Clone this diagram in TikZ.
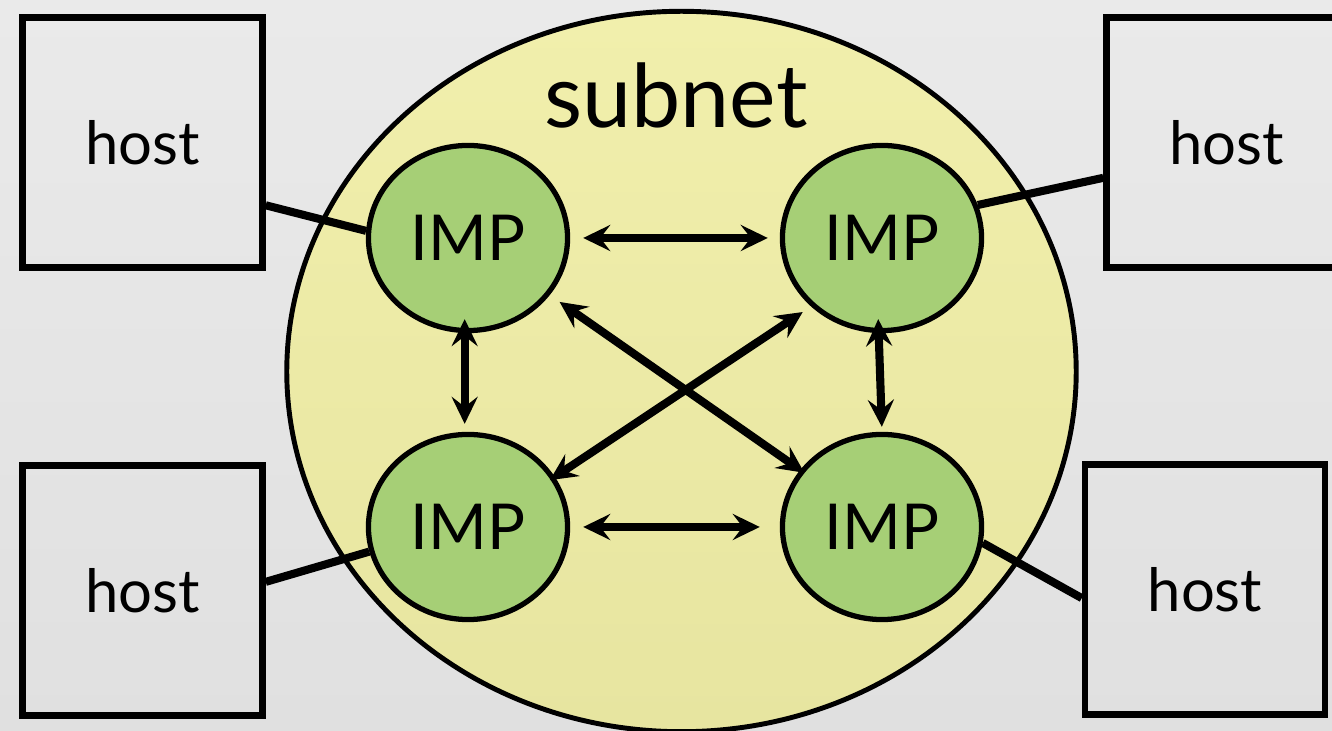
\documentclass[tikz,border=0pt]{standalone}
\usepackage{fontspec}
\setmainfont{Lato}
\usetikzlibrary{shapes.geometric,arrows.meta}

\definecolor{bgtop}{RGB}{234,234,234}
\definecolor{bgbot}{RGB}{224,224,224}
\definecolor{nettop}{RGB}{241,239,172}
\definecolor{netbot}{RGB}{231,229,160}
\definecolor{impgreen}{RGB}{166,207,118}

\begin{document}
\begin{tikzpicture}[x=0.01cm, y=-0.01cm,
   host/.style={draw, line width=1.8pt, minimum width=2.4cm, minimum height=2.5cm,
                font=\fontsize{17}{20}\selectfont},
   imp/.style={draw, ellipse, line width=1.5pt, fill=impgreen, minimum width=1.99cm,
               minimum height=1.85cm, inner sep=0pt, font=\fontsize{18}{21}\selectfont},
   link/.style={{Stealth[length=2.7mm, width=2.6mm, inset=1mm]}-{Stealth[length=2.7mm, width=2.6mm, inset=1mm]},
                line width=2.3pt},
   wire/.style={line width=2.3pt}]

\useasboundingbox (0,0) rectangle (1332,731);
\clip (0,0) rectangle (1332,731);
\fill[top color=bgtop, bottom color=bgbot] (0,0) rectangle (1332,731);

% the four hosts
\node[host] (h1) at (142.5,142.5) {host};
\node[host] (h2) at (1226.5,142.5) {host};
\node[host] (h3) at (142.5,590.5) {host};
\node[host] (h4) at (1205,589.5) {host};

% subnet
\node[draw, ellipse, line width=1.4pt, top color=nettop, bottom color=netbot,
      minimum width=7.89cm, minimum height=7.2cm] (net) at (681.5,371.5) {};
\node[font=\fontsize{25}{30}\selectfont] (title) at (676,95) {subnet};

% host lines
\coordinate (w1) at (h1.-27.6);
\coordinate (w2) at (h2.196.2);
\coordinate (w3) at (h3.4.9);
\coordinate (w4) at (h4.184.9);

\node[imp] (i1) at (468,238) {IMP};
\node[imp] (i2) at (882,238) {IMP};
\node[imp] (i3) at (468,527) {IMP};
\node[imp] (i4) at (882,527) {IMP};

\draw[wire] (w1) -- (i1.176.6);
\draw[wire] (w2) -- (i2.19.5);
\draw[wire] (w3) -- (i3.194.3);
\draw[wire] (w4) -- (i4.-9.9);

% IMP to IMP
\draw[link, shorten <=1.3mm, shorten >=1.2mm] (i1) -- (i2);
\draw[link, shorten <=1.3mm, shorten >=2mm] (i3) -- (i4);
\draw[link, shorten <=-1.4mm, shorten >=0.8mm] (i1.268) -- (i3.92);
\draw[link, shorten <=-1.4mm, shorten >=0.5mm] (i2.268) -- (i4.90);
\draw[link, shorten <=1.2mm, shorten >=-0.5mm] (i1) -- (i4);
\draw[link, shorten <=1mm, shorten >=-0.6mm] (i2.224) -- (i3.30);

\end{tikzpicture}
\end{document}
